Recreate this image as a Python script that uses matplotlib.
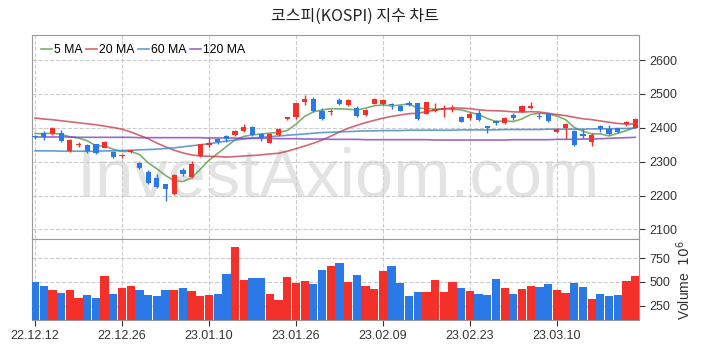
import matplotlib
matplotlib.use('Agg')
import matplotlib.pyplot as plt
import numpy as np
import pandas as pd

plt.rcParams['font.family'] = ['Liberation Sans', 'DejaVu Sans']

# trading days shown (KOSPI, 22.12.12 - 23.03.23)
dates = ['22.12.12', '22.12.13', '22.12.14', '22.12.15', '22.12.16', '22.12.19', '22.12.20', '22.12.21', '22.12.22', '22.12.23',
         '22.12.26', '22.12.27', '22.12.28', '22.12.29', '23.01.02', '23.01.03', '23.01.04', '23.01.05', '23.01.06', '23.01.09',
         '23.01.10', '23.01.11', '23.01.12', '23.01.13', '23.01.16', '23.01.17', '23.01.18', '23.01.19', '23.01.20', '23.01.25',
         '23.01.26', '23.01.27', '23.01.30', '23.01.31', '23.02.01', '23.02.02', '23.02.03', '23.02.06', '23.02.07', '23.02.08',
         '23.02.09', '23.02.10', '23.02.13', '23.02.14', '23.02.15', '23.02.16', '23.02.17', '23.02.20', '23.02.21', '23.02.22',
         '23.02.23', '23.02.24', '23.02.27', '23.02.28', '23.03.02', '23.03.03', '23.03.06', '23.03.07', '23.03.08', '23.03.09',
         '23.03.10', '23.03.13', '23.03.14', '23.03.15', '23.03.16', '23.03.17', '23.03.20', '23.03.21', '23.03.22', '23.03.23']

opens = [2377, 2385, 2382, 2385, 2331, 2350, 2348, 2351, 2341, 2328,
         2316, 2328, 2297, 2270, 2253, 2233, 2206, 2275, 2255, 2317,
         2348, 2366, 2377, 2378, 2390, 2403, 2382, 2356, 2380, 2425,
         2432, 2476, 2486, 2451, 2446, 2482, 2466, 2460, 2438, 2470,
         2470, 2471, 2463, 2472, 2472, 2441, 2451, 2452, 2455, 2433,
         2430, 2443, 2405, 2419, 2414, 2438, 2448, 2458, 2435, 2441,
         2389, 2401, 2391, 2382, 2358, 2406, 2396, 2399, 2411, 2401]
highs = [2380, 2390, 2402, 2395, 2366, 2359, 2353, 2353, 2360, 2333,
         2323, 2336, 2298, 2275, 2263, 2234, 2265, 2282, 2302, 2353,
         2371, 2371, 2380, 2393, 2410, 2405, 2385, 2385, 2400, 2432,
         2474, 2498, 2490, 2459, 2457, 2487, 2485, 2463, 2456, 2487,
         2484, 2473, 2466, 2479, 2474, 2477, 2472, 2466, 2466, 2436,
         2446, 2453, 2406, 2424, 2431, 2443, 2466, 2475, 2443, 2443,
         2399, 2414, 2394, 2397, 2384, 2409, 2407, 2401, 2421, 2428]
lows = [2368, 2365, 2380, 2359, 2328, 2343, 2326, 2324, 2340, 2312,
        2310, 2325, 2278, 2235, 2223, 2184, 2202, 2258, 2253, 2315,
        2344, 2353, 2359, 2375, 2387, 2375, 2361, 2354, 2375, 2424,
        2426, 2467, 2447, 2424, 2437, 2466, 2463, 2433, 2435, 2469,
        2468, 2456, 2450, 2463, 2424, 2440, 2448, 2431, 2448, 2416,
        2423, 2421, 2384, 2409, 2411, 2423, 2446, 2456, 2426, 2417,
        2384, 2368, 2347, 2370, 2345, 2389, 2378, 2386, 2405, 2399]
closes = [2372, 2373, 2400, 2361, 2363, 2352, 2333, 2326, 2359, 2314,
          2319, 2335, 2280, 2237, 2225, 2219, 2261, 2265, 2292, 2351,
          2354, 2359, 2368, 2390, 2402, 2378, 2371, 2382, 2398, 2431,
          2472, 2486, 2449, 2426, 2450, 2469, 2482, 2436, 2453, 2485,
          2483, 2466, 2451, 2466, 2426, 2475, 2457, 2458, 2458, 2417,
          2440, 2422, 2401, 2413, 2428, 2428, 2463, 2465, 2431, 2419,
          2396, 2411, 2348, 2377, 2379, 2396, 2381, 2387, 2417, 2426]
# volume in 10^6 shares
volumes = [500, 458, 416, 384, 416, 334, 363, 334, 563, 373,
           440, 458, 416, 363, 352, 416, 416, 440, 405, 352,
           363, 373, 584, 869, 521, 542, 542, 373, 310, 553,
           489, 510, 479, 627, 669, 700, 500, 574, 458, 426,
           616, 669, 489, 352, 394, 394, 521, 394, 500, 437,
           405, 373, 363, 532, 437, 373, 426, 458, 447, 479,
           416, 384, 489, 447, 320, 373, 352, 363, 510, 563]

# moving-average values before enough closes are on the chart
ma5_head = [2383, 2383, 2384, 2381]
ma20_head = [2429, 2426, 2424, 2421, 2418, 2415, 2412, 2409, 2405, 2401,
             2396, 2388, 2378, 2368, 2355, 2344, 2334, 2326, 2320]
ma60 = [2332, 2332, 2332, 2331, 2331, 2331, 2331, 2331, 2332, 2332,
        2333, 2334, 2335, 2336, 2337, 2339, 2341, 2344, 2347, 2350,
        2353, 2357, 2361, 2364, 2367, 2370, 2372, 2374, 2376, 2378,
        2380, 2382, 2384, 2386, 2387, 2388, 2389, 2390, 2391, 2391,
        2392, 2392, 2392, 2393, 2393, 2393, 2393, 2393, 2393, 2394,
        2394, 2394, 2394, 2394, 2395, 2395, 2395, 2395, 2395, 2396,
        2396, 2396, 2396, 2396, 2397, 2397, 2397, 2398, 2398, 2399]
ma120 = [2373, 2373, 2373, 2373, 2373, 2372, 2372, 2372, 2372, 2372,
         2372, 2372, 2371, 2371, 2371, 2371, 2371, 2371, 2371, 2371,
         2370, 2370, 2370, 2370, 2369, 2369, 2369, 2369, 2368, 2368,
         2368, 2367, 2367, 2367, 2366, 2366, 2366, 2366, 2365, 2365,
         2365, 2365, 2365, 2365, 2365, 2365, 2364, 2364, 2364, 2364,
         2364, 2364, 2364, 2364, 2364, 2365, 2365, 2365, 2365, 2365,
         2366, 2366, 2366, 2367, 2367, 2368, 2369, 2370, 2371, 2372]

close_s = pd.Series(closes, dtype=float)
ma5 = close_s.rolling(5).mean().values
ma5[:len(ma5_head)] = ma5_head
ma20 = close_s.rolling(20).mean().values
ma20[:len(ma20_head)] = ma20_head

x = np.arange(len(dates))
o = np.array(opens, dtype=float)
c = np.array(closes, dtype=float)
up = c >= o
RED = '#f3312a'
BLUE = '#2b79e6'
colors = np.where(up, RED, BLUE)

fig = plt.figure(figsize=(7.02, 3.53), dpi=100)
fig.patch.set_facecolor('white')
ax = fig.add_axes([0.0456, 0.3221, 0.8647, 0.5787])
axv = fig.add_axes([0.0456, 0.0935, 0.8647, 0.2286], sharex=ax)

for a in (ax, axv):
    a.set_axisbelow(True)
    a.grid(True, linestyle='--', color='#cccccc', linewidth=0.8)
    for s in a.spines.values():
        s.set_color('#999999')
    a.yaxis.tick_right()
    a.tick_params(axis='both', colors='#333333', labelsize=9, length=4, width=0.8)

# watermark
ax.text(0.505, 0.30, 'InvestAxiom.com', transform=ax.transAxes, fontsize=49.5,
        color='#e3e3e3', ha='center', va='center', zorder=0)

# candles
ax.vlines(x, lows, highs, color=colors, linewidth=1.0, zorder=3)
body = np.maximum(np.abs(c - o), 1.5)
ax.bar(x, body, bottom=np.minimum(o, c), width=0.6, color=colors, zorder=3)

ax.plot(x, ma5, color='#5a9e45', lw=1.2, alpha=0.8, label='5 MA', zorder=2)
ax.plot(x, ma20, color='#c4434f', lw=1.2, alpha=0.8, label='20 MA', zorder=2)
ax.plot(x, ma60, color='#3d86c4', lw=1.2, alpha=0.8, label='60 MA', zorder=2)
ax.plot(x, ma120, color='#7d42c4', lw=1.2, alpha=0.8, label='120 MA', zorder=2)

ax.set_ylim(2071, 2674)
ax.set_yticks([2100, 2200, 2300, 2400, 2500, 2600])
ax.set_xlim(-0.35, 69.45)
ax.tick_params(axis='x', which='both', bottom=False, labelbottom=False)
ax.legend(loc='upper left', ncol=4, frameon=False, fontsize=8.8, handlelength=0.9,
          handletextpad=0.15, columnspacing=0.3, borderaxespad=0.35)

# volume
axv.bar(x, volumes, width=0.95, color=colors, zorder=3)
axv.set_ylim(99, 950)
axv.set_yticks([250, 500, 750])
axv.yaxis.set_label_position('right')
axv.set_ylabel('Volume  $10^{6}$', fontsize=10, color='#333333', labelpad=3)
ticks = list(range(0, len(dates), 10))
axv.set_xticks(ticks)
axv.set_xticklabels([dates[i] for i in ticks])

fig.text(0.505, 0.955, '코스피(KOSPI) 지수 차트', ha='center', va='center',
         fontsize=11.5, color='#222222', family=['Noto Sans CJK KR', 'DejaVu Sans'])

plt.savefig('out.png', dpi=100, facecolor='white')
plt.close()
